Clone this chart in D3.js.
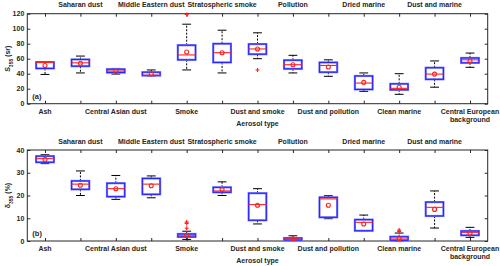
<!DOCTYPE html>
<html>
<head>
<meta charset="utf-8">
<script src="https://cdn.jsdelivr.net/npm/d3@7"></script>
<style>
  body { margin: 0; background: #fff; }
  svg text { font-family: "Liberation Sans", Arial, sans-serif; font-weight: bold; fill: #262626; }
</style>
</head>
<body>
<div id="chart"></div>
<script>
// aerosol types, in plot order
var categories = ['Ash', 'Saharan dust', 'Central Asian dust', 'Middle Eastern dust', 'Smoke',
  'Stratospheric smoke', 'Dust and smoke', 'Pollution', 'Dust and pollution', 'Dried marine',
  'Clean marine', 'Dust and marine', 'Central European background'];

// (a) lidar ratio S355 (sr)
var lrLo   = [39, 41, 39.5, 37, 45, 41, 60, 41, 36.5, 16.5, 12.5, 22, 48.5];
var lrQ1   = [47, 50, 41.5, 37.5, 58.5, 55, 66, 46.5, 42, 19, 18.5, 32.5, 54.5];
var lrMed  = [55, 54.5, 43.5, 38, 65, 68, 73, 52, 51, 27.5, 20.5, 39.5, 58.5];
var lrQ3   = [55.5, 59, 46, 42, 78, 80, 79.5, 58, 55, 37, 26.5, 48, 61];
var lrHi   = [55.5, 63.5, 47, 45, 106, 98, 94.5, 64.5, 58.5, 41, 40, 57, 67.5];
var lrMean = [51, 54, 43, 40, 69, 68, 73, 52, 49, 28.5, 22, 39.5, 57];
var lrOut  = [[], [], [], [], [119], [], [45], [], [], [], [], [], []];
var lrTicks = [0, 20, 40, 60, 80, 100, 120];

// (b) particle depolarization ratio δ355 (%)
var dpLo   = [34, 20, 18.3, 19, 0.7, 20, 7.5, 0.2, 9.8, 4.5, 0.1, 5.7, 1.6];
var dpQ1   = [34.6, 22.7, 19.5, 20.5, 1.8, 21.4, 9.1, 0.4, 10.4, 4.5, 0.3, 11, 2.5];
var dpMed  = [36.2, 25, 23, 25, 2.3, 22, 16, 0.9, 18.5, 8.2, 0.9, 14.8, 3.8];
var dpQ3   = [37.3, 26.4, 25.4, 27.5, 3.1, 23.6, 21, 1.3, 19.2, 9.4, 1.9, 17.1, 4.4];
var dpHi   = [37.9, 30.8, 28.8, 28.6, 4.3, 26, 23, 2.3, 19.9, 11.4, 3.5, 22, 6];
var dpMean = [35.8, 24.5, 23, 24.3, 2.5, 22.6, 15.7, 1, 15.7, 7.5, 1, 13.9, 3.4];
var dpOut  = [[], [], [], [], [8.3, 7.7, 5.6], [], [], [], [], [], [4.8, 4.1], [], []];
var dpTicks = [0, 10, 20, 30, 40];

var W = 500, H = 266;
var svg = d3.select('#chart').append('svg').attr('width', W).attr('height', H);

var x = d3.scaleLinear().domain([0.5, categories.length + 0.5]).range([27.3, 487.7]);

function panel(opt) {
  var y = d3.scaleLinear().domain(opt.domain).range([opt.bottom, opt.top]);
  var g = svg.append('g');
  var idx = d3.range(categories.length);
  var bw = (x(2) - x(1)) * 0.5;

  // ticks (inward) on all four sides
  g.append('g').attr('transform', 'translate(0,' + opt.bottom + ')')
    .call(d3.axisTop(x).tickValues(idx.map(function(i){ return i + 1; })).tickSize(3).tickFormat(''))
    .call(function(s){ s.select('.domain').remove(); });
  g.append('g').attr('transform', 'translate(0,' + opt.top + ')')
    .call(d3.axisBottom(x).tickValues(idx.map(function(i){ return i + 1; })).tickSize(3).tickFormat(''))
    .call(function(s){ s.select('.domain').remove(); });
  g.append('g').attr('transform', 'translate(' + x.range()[1] + ',0)')
    .call(d3.axisLeft(y).tickValues(opt.ticks).tickSize(3).tickFormat(''))
    .call(function(s){ s.select('.domain').remove(); });
  var ya = g.append('g').attr('transform', 'translate(' + x.range()[0] + ',0)')
    .call(d3.axisRight(y).tickValues(opt.ticks).tickSize(3).tickFormat(''));
  ya.select('.domain').remove();
  g.selectAll('.tick line').attr('stroke', '#262626');

  // y tick labels
  g.selectAll('.ylab').data(opt.ticks).enter().append('text')
    .attr('x', x.range()[0] - 3).attr('y', function(d){ return y(d) + 2.5; })
    .attr('text-anchor', 'end').style('font-size', '7px').text(function(d){ return d; });

  // frame
  g.append('rect').attr('x', x.range()[0]).attr('y', opt.top)
    .attr('width', x.range()[1] - x.range()[0]).attr('height', opt.bottom - opt.top)
    .attr('fill', 'none').attr('stroke', '#262626').attr('stroke-width', 1);

  // category labels, alternating bottom / top
  idx.forEach(function(i){
    var name = categories[i];
    var t = g.append('text').attr('x', x(i + 1)).attr('text-anchor', 'middle').style('font-size', '7px');
    if (i % 2 == 0) {
      t.attr('y', opt.bottom + 10);
      if (name == 'Central European background') {
        t.append('tspan').attr('x', x(i + 1)).text('Central European');
        t.append('tspan').attr('x', x(i + 1)).attr('dy', 8).text('background');
      } else {
        t.text(name);
      }
    } else {
      t.attr('y', opt.top - 6.5).text(name);
    }
  });

  g.append('text').attr('x', (x.range()[0] + x.range()[1]) / 2).attr('y', opt.bottom + 22)
    .attr('text-anchor', 'middle').style('font-size', '7px').text('Aerosol type');

  // y label with subscript
  var yl = g.append('text')
    .attr('transform', 'translate(10,' + ((opt.top + opt.bottom) / 2) + ') rotate(-90)')
    .attr('text-anchor', 'middle').style('font-size', '7px');
  yl.append('tspan').text(opt.sym);
  yl.append('tspan').attr('dy', 2.5).style('font-size', '5px').text('355');
  yl.append('tspan').attr('dy', -2.5).text(' ' + opt.unit);

  g.append('text').attr('x', x.range()[0] + 5).attr('y', opt.bottom - 5)
    .style('font-size', '7.5px').text(opt.tag);

  // whiskers
  var wg = g.selectAll('.box').data(idx).enter().append('g');
  wg.append('line').attr('x1', function(i){ return x(i + 1); }).attr('x2', function(i){ return x(i + 1); })
    .attr('y1', function(i){ return y(opt.q3[i]); }).attr('y2', function(i){ return y(opt.hi[i]); })
    .attr('stroke', '#000').attr('stroke-width', 1).attr('stroke-dasharray', '2,1.5');
  wg.append('line').attr('x1', function(i){ return x(i + 1); }).attr('x2', function(i){ return x(i + 1); })
    .attr('y1', function(i){ return y(opt.q1[i]); }).attr('y2', function(i){ return y(opt.lo[i]); })
    .attr('stroke', '#000').attr('stroke-width', 1).attr('stroke-dasharray', '2,1.5');
  [opt.hi, opt.lo].forEach(function(arr){
    wg.append('line').attr('x1', function(i){ return x(i + 1) - bw / 4; }).attr('x2', function(i){ return x(i + 1) + bw / 4; })
      .attr('y1', function(i){ return y(arr[i]); }).attr('y2', function(i){ return y(arr[i]); })
      .attr('stroke', '#000').attr('stroke-width', 1);
  });

  // boxes
  wg.append('rect').attr('x', function(i){ return x(i + 1) - bw / 2; })
    .attr('y', function(i){ return y(opt.q3[i]); }).attr('width', bw)
    .attr('height', function(i){ return Math.max(0.5, y(opt.q1[i]) - y(opt.q3[i])); })
    .attr('fill', '#fff').attr('stroke', '#8080ff').attr('stroke-width', 2.2);
  wg.append('rect').attr('x', function(i){ return x(i + 1) - bw / 2; })
    .attr('y', function(i){ return y(opt.q3[i]); }).attr('width', bw)
    .attr('height', function(i){ return Math.max(0.5, y(opt.q1[i]) - y(opt.q3[i])); })
    .attr('fill', 'none').attr('stroke', '#2525ff').attr('stroke-width', 1.1);

  // medians
  wg.append('line').attr('x1', function(i){ return x(i + 1) - bw / 2; }).attr('x2', function(i){ return x(i + 1) + bw / 2; })
    .attr('y1', function(i){ return y(opt.med[i]); }).attr('y2', function(i){ return y(opt.med[i]); })
    .attr('stroke', '#ff2020').attr('stroke-width', 1.1);

  // means
  wg.append('circle').attr('cx', function(i){ return x(i + 1); }).attr('cy', function(i){ return y(opt.mean[i]); })
    .attr('r', 2).attr('fill', 'none').attr('stroke', '#ff2020').attr('stroke-width', 1.1);

  // outliers
  idx.forEach(function(i){
    opt.out[i].forEach(function(v){
      var cx = x(i + 1), cy = y(v);
      g.append('path').attr('d', 'M' + (cx - 2) + ',' + cy + 'H' + (cx + 2) + 'M' + cx + ',' + (cy - 2) + 'V' + (cy + 2))
        .attr('stroke', '#ff2020').attr('stroke-width', 1.1);
    });
  });
}

panel({ top: 13.7, bottom: 103.7, domain: [0, 120], ticks: lrTicks, sym: 'S', unit: '(sr)', tag: '(a)',
  lo: lrLo, q1: lrQ1, med: lrMed, q3: lrQ3, hi: lrHi, mean: lrMean, out: lrOut });
panel({ top: 150, bottom: 241, domain: [0, 40], ticks: dpTicks, sym: 'δ', unit: '(%)', tag: '(b)',
  lo: dpLo, q1: dpQ1, med: dpMed, q3: dpQ3, hi: dpHi, mean: dpMean, out: dpOut });
</script>
</body>
</html>
